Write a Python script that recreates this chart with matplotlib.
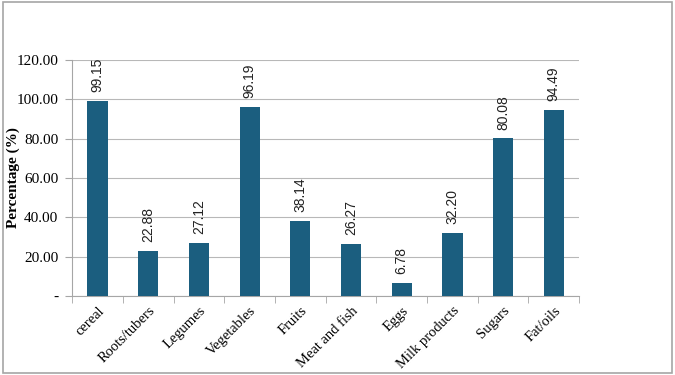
import numpy as np
import matplotlib.pyplot as plt
from matplotlib.patches import Rectangle

categories = ['cereal', 'Roots/tubers', 'Legumes', 'Vegetables', 'Fruits',
              'Meat and fish', 'Eggs', 'Milk products', 'Sugars', 'Fat/oils']
values = [99.15, 22.88, 27.12, 96.19, 38.14, 26.27, 6.78, 32.20, 80.08, 94.49]
y_ticks = [0, 20, 40, 60, 80, 100, 120]
y_tick_labels = ['-', '20.00', '40.00', '60.00', '80.00', '100.00', '120.00']

bar_color = '#1b5e7f'
axis_color = '#a6a6a6'
serif = ['Liberation Serif', 'DejaVu Serif']
sans = ['Liberation Sans', 'DejaVu Sans']

fig = plt.figure(figsize=(6.75, 3.75), dpi=100)
ax = fig.add_axes([0.107, 0.211, 0.751, 0.629])

x = np.arange(len(categories))
ax.bar(x, values, width=0.4, color=bar_color, zorder=3)

# value labels sit a little above each bar, turned upright
for xi, v in zip(x, values):
    ax.text(xi, v + 4.5, f'{v:.2f}', rotation=90, ha='center', va='bottom',
            fontsize=10, family=sans, color='#222222')

ax.set_xlim(-0.5, len(categories) - 0.5)
ax.set_ylim(0, 120)
ax.set_yticks(y_ticks)
ax.set_yticklabels(y_tick_labels, family=serif, fontsize=11)
ax.yaxis.grid(True, color='#b8b8b8', linewidth=0.8, zorder=0)

ax.set_xticks(x)
ax.set_xticklabels(categories, rotation=45, ha='right', rotation_mode='anchor',
                   family=serif, fontsize=10.5)
ax.tick_params(axis='x', length=0, pad=6)
ax.set_xticks(np.arange(-0.5, len(categories)), minor=True)
ax.tick_params(axis='x', which='minor', length=5, color=axis_color)
ax.tick_params(axis='y', length=5, color=axis_color, pad=5)

for side in ['top', 'right']:
    ax.spines[side].set_visible(False)
for side in ['left', 'bottom']:
    ax.spines[side].set_color(axis_color)
    ax.spines[side].set_linewidth(0.8)

ax.set_ylabel('Percentage (%)', family=serif, fontsize=11, fontweight='bold')
ax.yaxis.set_label_coords(-0.104, 0.5)

fig.patches.append(Rectangle((0.004, 0.005), 0.992, 0.99, transform=fig.transFigure,
                             fill=False, edgecolor=axis_color, linewidth=1.2))

fig.savefig('out.png', dpi=100)
